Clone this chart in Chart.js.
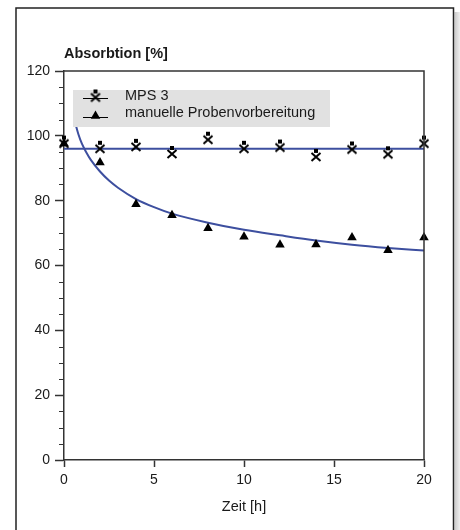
<!DOCTYPE html>
<html><head><meta charset="utf-8">
<script src="https://cdn.jsdelivr.net/npm/chart.js@4/dist/chart.umd.min.js"></script>
<style>html,body{margin:0;padding:0;background:#fff}canvas{display:block}</style>
</head><body>
<canvas id="c" width="460" height="530"></canvas>
<script>
// ---- data ----
const timeH    = [0, 2, 4, 6, 8, 10, 12, 14, 16, 18, 20];
const mps3     = [97.6, 96.0, 96.6, 94.4, 98.8, 96.0, 96.4, 93.5, 95.8, 94.3, 97.6];
const manuell  = [97.6, 91.8, 78.9, 75.5, 71.5, 68.9, 66.4, 66.5, 68.6, 64.7, 68.6];
const mpsFitX  = [0, 20];
const mpsFitY  = [96.0, 96.0];
const manFitX  = [0.6, 0.8, 1, 1.25, 1.5, 2, 2.5, 3, 4, 5, 6, 8, 10, 12, 14, 16, 18, 20];
const manFitY  = [104.5, 100.5, 97.5, 94.8, 92.5, 89.0, 86.2, 84.0, 80.5, 78.0, 76.0, 73.2, 71.0, 69.3, 67.7, 66.4, 65.4, 64.6];
const xTicks   = [0, 5, 10, 15, 20];
const yTicks   = [0, 20, 40, 60, 80, 100, 120];
const seriesLabels = ['MPS 3', 'manuelle Probenvorbereitung'];
const yTitle = 'Absorbtion [%]';
const xTitle = 'Zeit [h]';

const FONT = '"Liberation Sans", Arial, Helvetica, sans-serif';
const BLUE = '#3d4f9f';
const AXIS = '#333';
const TXT = '#1a1a1a';

function makeMpsGlyph(){
  const c = document.createElement('canvas'); c.width = 12; c.height = 22;
  const g = c.getContext('2d');
  g.fillStyle = '#000'; g.fillRect(4, 3, 4, 4);
  g.strokeStyle = '#000'; g.lineWidth = 2;
  g.beginPath(); g.moveTo(1.5, 7); g.lineTo(10.5, 15); g.moveTo(10.5, 7); g.lineTo(1.5, 15); g.stroke();
  return c;
}
const mpsGlyph = makeMpsGlyph();

function triangle(ctx, x, y, r){
  ctx.beginPath();
  ctx.moveTo(x, y - r);
  ctx.lineTo(x + r * Math.sin(Math.PI/3), y + r/2);
  ctx.lineTo(x - r * Math.sin(Math.PI/3), y + r/2);
  ctx.closePath(); ctx.fill();
}

const framePlugin = {
  id: 'frame',
  beforeDraw(chart){
    const ctx = chart.ctx; ctx.save();
    ctx.fillStyle = '#fff'; ctx.fillRect(0, 0, chart.width, chart.height);
    const g = ctx.createLinearGradient(454, 0, 460, 0);
    g.addColorStop(0, '#c6c6c6'); g.addColorStop(1, '#eeeeee');
    ctx.fillStyle = g; ctx.fillRect(454.5, 12, 6, 520);
    ctx.strokeStyle = '#222'; ctx.lineWidth = 1.5;
    ctx.beginPath(); ctx.moveTo(16, 532); ctx.lineTo(16, 8); ctx.lineTo(453.5, 8); ctx.lineTo(453.5, 532); ctx.stroke();
    ctx.fillStyle = TXT; ctx.font = 'bold 14.5px ' + FONT; ctx.textBaseline = 'alphabetic'; ctx.textAlign = 'left';
    ctx.fillText(yTitle, chart.chartArea.left, 57.5);
    ctx.restore();
  },
  afterDraw(chart){
    const ctx = chart.ctx; const {left, right, top, bottom} = chart.chartArea;
    ctx.save(); ctx.strokeStyle = AXIS; ctx.lineWidth = 1.5;
    ctx.beginPath(); ctx.moveTo(left, top); ctx.lineTo(right, top); ctx.lineTo(right, bottom); ctx.stroke();
    const ys = chart.scales.y;
    ctx.beginPath();
    for (let v = ys.min; v <= ys.max; v += 5){
      if (v % 20 === 0) continue;
      const py = Math.round(ys.getPixelForValue(v)) + 0.5;
      ctx.moveTo(left - 5, py); ctx.lineTo(left, py);
    }
    ctx.lineWidth = 1.2; ctx.stroke();
    ctx.restore();
  },
  afterDatasetsDraw(chart){
    const ctx = chart.ctx; ctx.save();
    ctx.fillStyle = '#e1e1e1'; ctx.fillRect(73, 90, 257, 37);
    ctx.strokeStyle = '#000'; ctx.lineWidth = 1;
    ctx.beginPath(); ctx.moveTo(83, 98.5); ctx.lineTo(108, 98.5); ctx.moveTo(83, 117.5); ctx.lineTo(108, 117.5); ctx.stroke();
    ctx.drawImage(mpsGlyph, 95.5 - 6, 97.5 - 11);
    ctx.fillStyle = '#000'; triangle(ctx, 95.5, 116, 5.5);
    ctx.fillStyle = TXT; ctx.font = '14.5px ' + FONT; ctx.textBaseline = 'middle';
    ctx.fillText(seriesLabels[0], 125, 95.5);
    ctx.fillText(seriesLabels[1], 125, 113);
    ctx.restore();
  }
};

new Chart(document.getElementById('c'), {
  type: 'scatter',
  data: { datasets: [
    { label: seriesLabels[0], data: timeH.map((x, i) => ({x, y: mps3[i]})), pointStyle: mpsGlyph, pointRadius: 6, showLine: false, clip: false },
    { label: seriesLabels[1], data: timeH.map((x, i) => ({x, y: manuell[i]})), pointStyle: 'triangle', pointRadius: 5.5, backgroundColor: '#000', borderColor: '#000', borderWidth: 0, showLine: false, clip: false },
    { label: 'fit MPS', data: mpsFitX.map((x, i) => ({x, y: mpsFitY[i]})), showLine: true, borderColor: BLUE, borderWidth: 2, pointRadius: 0, fill: false },
    { label: 'fit manuell', data: manFitX.map((x, i) => ({x, y: manFitY[i]})), showLine: true, borderColor: BLUE, borderWidth: 2, pointRadius: 0, fill: false, cubicInterpolationMode: 'monotone' }
  ]},
  options: {
    responsive: false, animation: false, devicePixelRatio: 1,
    layout: { padding: { top: 71, right: 36, left: 0, bottom: 0 } },
    plugins: { legend: { display: false }, tooltip: { enabled: false } },
    scales: {
      x: {
        type: 'linear', min: 0, max: 20,
        afterBuildTicks: s => { s.ticks = xTicks.map(v => ({value: v})); },
        afterFit: s => { s.height = 70; },
        grid: { drawOnChartArea: false, drawTicks: true, tickLength: 7, tickColor: AXIS, tickWidth: 1.5 },
        border: { display: true, color: AXIS, width: 1.5 },
        ticks: { color: TXT, font: { family: FONT, size: 14 }, padding: 5, maxRotation: 0 },
        title: { display: true, text: xTitle, color: TXT, font: { family: FONT, size: 14.5 }, padding: { top: 4, bottom: 14 } }
      },
      y: {
        type: 'linear', min: 0, max: 120,
        afterBuildTicks: s => { s.ticks = yTicks.map(v => ({value: v})); },
        afterFit: s => { s.width = 64; },
        grid: { drawOnChartArea: false, drawTicks: true, tickLength: 9, tickColor: AXIS, tickWidth: 1.5 },
        border: { display: true, color: AXIS, width: 1.5 },
        ticks: { color: TXT, font: { family: FONT, size: 14 }, padding: 5 }
      }
    }
  },
  plugins: [framePlugin]
});
</script>
</body></html>
